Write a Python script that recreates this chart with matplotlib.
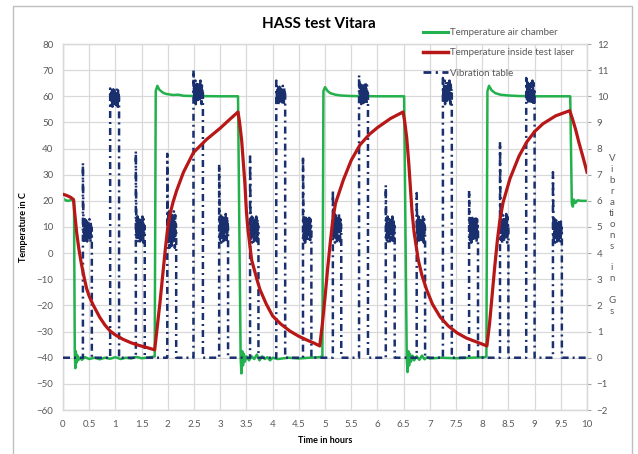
import numpy as np
import matplotlib
matplotlib.use('Agg')
import matplotlib.pyplot as plt
from matplotlib.lines import Line2D
from matplotlib.patches import Rectangle

plt.rcParams['font.family'] = ['Lato', 'DejaVu Sans']

# --- air chamber temperature (deg C) ---
green_t = [0, 0.05, 0.1, 0.15, 0.21, 0.225, 0.235, 0.245, 0.255, 0.27, 0.29, 0.32, 0.36, 0.42,
           0.5, 0.6, 0.7, 0.8, 0.9, 1.0, 1.1, 1.2, 1.3, 1.4, 1.5, 1.6, 1.7, 1.75,
           1.77, 1.80, 1.84, 1.9, 1.95, 2.0, 2.1, 2.2, 2.3, 2.5, 3.0, 3.34,
           3.39, 3.405, 3.42, 3.435, 3.45, 3.47, 3.5, 3.55, 3.6, 3.65, 3.7, 3.75, 3.8, 3.85,
           3.9, 3.95, 4.0, 4.1, 4.3, 4.5, 4.7, 4.9, 4.95,
           4.97, 5.0, 5.05, 5.1, 5.2, 5.3, 5.5, 6.0, 6.51,
           6.56, 6.575, 6.59, 6.605, 6.62, 6.64, 6.67, 6.7, 6.75, 6.8, 6.85, 6.9, 6.95, 7.0,
           7.2, 7.5, 7.8, 8.05, 8.08,
           8.10, 8.13, 8.18, 8.25, 8.35, 8.5, 8.7, 9.0, 9.68,
           9.71, 9.73, 9.75, 9.78, 9.82, 9.9, 10.0]
green_v = [21, 20.2, 20, 20.3, 20, -38, -44, -37.5, -42, -39, -41, -40, -40.8, -39.8,
           -40.5, -40, -40.6, -40, -40.4, -39.8, -40.5, -40, -40.3, -39.7, -40.2, -40, -39.7, -39.5,
           62, 64, 62.5, 61.5, 61.0, 60.8, 60.5, 60.6, 60.2, 60.1, 60, 60,
           -40, -46, -37.5, -43, -38.5, -41.5, -39.5, -41, -39.5, -40.5, -38.8, -41, -39.5, -40.5,
           -39.8, -41, -40, -40.5, -40, -40.3, -40, -39.8, -39.5,
           62, 63.5, 62, 61.2, 60.6, 60.3, 60.1, 60, 60,
           -40, -45.5, -37.5, -43, -38.5, -41.5, -39.2, -41, -39.5, -40.8, -39.2, -40.6, -39.8, -40.3,
           -40, -40.2, -40, -39.8, -39.5,
           62, 64, 62.3, 61.2, 60.6, 60.3, 60.1, 60, 60,
           19, 17.8, 20.5, 19.2, 20.2, 20, 20]

# --- temperature inside test laser (deg C) ---
red_t = [0, 0.05, 0.1, 0.15, 0.2, 0.23, 0.26, 0.3, 0.35, 0.4, 0.45, 0.5, 0.58, 0.7, 0.8, 0.9,
         1.0, 1.15, 1.3, 1.45, 1.6, 1.75,
         1.8, 1.85, 1.9, 1.95, 2.0, 2.05, 2.1, 2.17, 2.3, 2.49, 2.74, 3.0, 3.2, 3.34,
         3.37, 3.41, 3.47, 3.5, 3.53, 3.6, 3.7, 3.76, 3.88, 4.0, 4.15, 4.33, 4.5, 4.65, 4.8, 4.9,
         4.95, 5.0, 5.05, 5.1, 5.15, 5.2, 5.35, 5.5, 5.67, 5.85, 6.0, 6.25, 6.49,
         6.52, 6.56, 6.6, 6.63, 6.66, 6.7, 6.78, 6.85, 6.94, 7.05, 7.2, 7.35, 7.52, 7.7, 7.83, 8.0, 8.09,
         8.14, 8.19, 8.24, 8.29, 8.34, 8.4, 8.53, 8.7, 8.85, 9.0, 9.16, 9.4, 9.67,
         9.72, 9.78, 9.85, 9.92, 10.0]
red_v = [22.5, 22.2, 21.8, 21.3, 20.5, 14, 8, 2, -4, -9, -13.5, -16.5, -20, -24.5, -27.5, -29.8,
         -31.3, -33, -34.3, -35.3, -36.1, -37,
         -28, -19, -9, 1, 10, 15.5, 19.5, 24, 31, 38.5, 43.5, 47.8, 51.5, 54,
         50, 43, 27, 16, 9, -2.6, -10, -14, -19.5, -24, -27, -29.8, -31.8, -33.2, -34.5, -35.5,
         -27, -17, -6, 4, 13, 19, 28, 35.5, 41.5, 45.5, 48, 51.5, 54,
         50.5, 44, 34, 25, 16, 8, -2.6, -8.5, -14, -19.5, -24.5, -27.8, -30.5, -32.5, -33.5, -34.8, -35.5,
         -27, -16, -5, 5, 13, 19.5, 28.5, 37, 42.5, 46.5, 49.5, 52.5, 54.5,
         51.5, 47.5, 42, 37, 31]

# --- vibration table bursts (hours, Gs) ---
burst_start = [0.38, 0.90, 1.39, 1.99, 2.49, 2.98, 3.57, 4.07, 4.58, 5.15, 5.65, 6.16, 6.75, 7.25, 7.75, 8.34, 8.84, 9.35]
burst_end = [0.55, 1.07, 1.56, 2.16, 2.67, 3.15, 3.73, 4.24, 4.74, 5.31, 5.82, 6.33, 6.91, 7.42, 7.92, 8.50, 9.00, 9.52]
burst_spike = [7.45, 10.3, 7.9, 7.8, 11.0, 7.4, 7.7, 10.6, 7.7, 6.4, 10.8, 6.6, 6.3, 10.7, 6.4, 8.25, 10.7, 7.1]
burst_low = [4.4, 9.6, 4.4, 4.2, 9.7, 4.4, 4.4, 9.7, 4.4, 4.4, 9.7, 4.4, 4.4, 9.7, 4.4, 4.4, 9.7, 4.4]
burst_high = [5.3, 10.3, 5.4, 5.6, 10.6, 5.5, 5.4, 10.4, 5.4, 5.5, 10.5, 5.4, 5.4, 10.6, 5.4, 5.5, 10.6, 5.3]
# shape of the noisy part inside a burst (fraction between low and high)
wiggle = [0.5, 0.1, 0.9, 0.3, 1.0, 0.0, 0.7, 0.2, 0.95, 0.15, 0.8, 0.05, 0.85, 0.35, 0.9, 0.1,
          0.6, 0.4, 1.0, 0.2, 0.75, 0.0, 0.9, 0.3, 0.65, 0.5]

vib_t = [0.0]
vib_g = [0.0]
for s, e, sp, lo, hi in zip(burst_start, burst_end, burst_spike, burst_low, burst_high):
    vib_t += [s, s]
    vib_g += [0.0, sp]
    tt = np.linspace(s + 0.01, e, len(wiggle))
    vib_t += list(tt)
    vib_g += [lo + w * (hi - lo) for w in wiggle]
    vib_t += [e]
    vib_g += [0.0]
vib_t.append(10.0)
vib_g.append(0.0)

GREEN = '#22b14c'
RED = '#b81717'
NAVY = '#1a2f6e'
GRAY = '#595959'
GRID = '#d9d9d9'

fig = plt.figure(figsize=(6.38, 4.54), dpi=100, facecolor='white')
ax = fig.add_axes([63 / 638, 44 / 454, 524 / 638, 366 / 454])
ax2 = ax.twinx()

ax.set_xlim(0, 10)
ax.set_ylim(-60, 80)
ax2.set_ylim(-2, 12)
ax.set_xticks(np.arange(0, 10.01, 0.5))
ax.set_xticklabels(['0', '0.5', '1', '1.5', '2', '2.5', '3', '3.5', '4', '4.5', '5',
                    '5.5', '6', '6.5', '7', '7.5', '8', '8.5', '9', '9.5', '10'])
ax.set_yticks(np.arange(-60, 81, 10))
ax2.set_yticks(np.arange(-2, 13, 1))
ax.grid(True, color=GRID, linewidth=0.9)
ax.set_axisbelow(True)
for a in (ax, ax2):
    for sp in a.spines.values():
        sp.set_color(GRID)
        sp.set_linewidth(0.9)
ax.tick_params(axis='both', length=0, labelsize=7, labelcolor=GRAY, pad=7)
ax2.tick_params(axis='y', length=3, color='#a6a6a6', labelsize=7, labelcolor=GRAY, pad=4)

ax.plot(green_t, green_v, color=GREEN, linewidth=1.8, zorder=2)
ax2.plot(vib_t, vib_g, color=NAVY, linewidth=1.8, linestyle=(0, (2.8, 1.6, 0.8, 1.6)), zorder=3)
ax2.plot(red_t, red_v, color=RED, linewidth=2.3, transform=ax.transData, zorder=4)

ax.set_xlabel('Time in hours', fontsize=6.5, fontweight='bold', labelpad=5)
ax.set_ylabel('Temperature in C', fontsize=6.5, fontweight='bold', labelpad=6)
fig.text(0.5, 0.947, 'HASS test Vitara', ha='center', va='center', fontsize=11, fontweight='bold')
fig.text(612 / 638, 0.482, 'V\ni\nb\nr\na\nti\no\nn\ns\n\ni\nn\n\nG\ns', ha='center', va='center',
         fontsize=7, color=GRAY, linespacing=1.27)

handles = [Line2D([], [], color=GREEN, linewidth=2.2),
           Line2D([], [], color=RED, linewidth=2.5),
           Line2D([], [], color=NAVY, linewidth=2.0, linestyle=(0, (2.8, 1.6, 0.8, 1.6)))]
labels = ['Temperature air chamber', 'Temperature inside test laser', 'Vibration table']
leg = fig.legend(handles, labels, loc='upper left', bbox_to_anchor=(0.657, 0.947),
                 frameon=False, fontsize=7, labelspacing=1.16, handlelength=2.6,
                 handletextpad=0.2, borderaxespad=0)
for txt in leg.get_texts():
    txt.set_color(GRAY)

fig.patches.append(Rectangle((13 / 638, -0.02), 619 / 638, (454 - 6) / 454 + 0.02,
                             transform=fig.transFigure, fill=False,
                             edgecolor='#bfbfbf', linewidth=1.0))

plt.savefig('out.png', dpi=100, facecolor='white')
plt.close()
